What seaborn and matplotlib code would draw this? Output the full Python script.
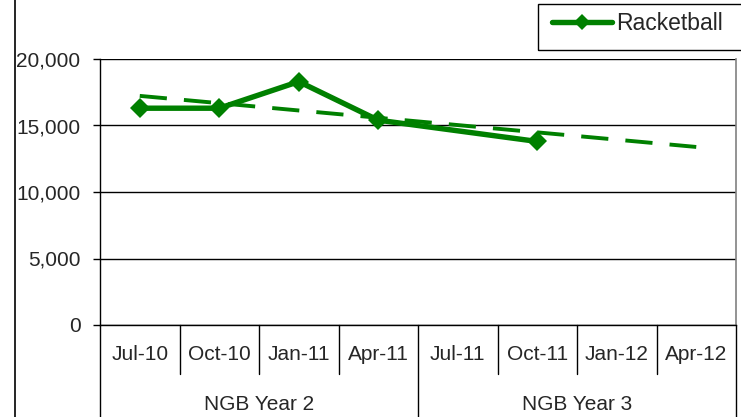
import numpy as np
import pandas as pd
import matplotlib
matplotlib.use("Agg")
import matplotlib.pyplot as plt
import matplotlib.transforms as mtransforms
from matplotlib.lines import Line2D
from matplotlib.patches import Rectangle
import seaborn as sns

# ---- data ----
categories = ["Jul-10", "Oct-10", "Jan-11", "Apr-11", "Jul-11", "Oct-11", "Jan-12", "Apr-12"]
values = [16300, 16300, 18300, 15400, np.nan, 13800, np.nan, np.nan]
groups = ["NGB Year 2", "NGB Year 3"]
group_sizes = [4, 4]
series_name = "Racketball"
yticks = [0, 5000, 10000, 15000, 20000]

sns.set_theme(style="white")
plt.rcParams["font.family"] = ["Liberation Sans", "DejaVu Sans"]

GREEN = "#008000"
W, H = 741, 417
FS = 15

fig = plt.figure(figsize=(W / 100, H / 100), dpi=100)
ax = fig.add_axes([100 / W, 1 - 325 / H, 636 / W, 266 / H])

df = pd.DataFrame({"pos": np.arange(len(categories)), "val": values})
sns.lineplot(data=df, x="pos", y="val", ax=ax, color=GREEN, lw=3.9,
             marker="D", markersize=10, markeredgewidth=0, zorder=4)

# linear trend line (Excel-like), extended over all categories
valid = df.dropna()
coef = np.polyfit(valid["pos"] + 1, valid["val"], 1)
xs = df["pos"].to_numpy()
ax.plot(xs, np.polyval(coef, xs + 1), color=GREEN, lw=2.8,
        dashes=(7, 4.4), zorder=3)

ax.set_xlim(-0.5, len(categories) - 0.5)
ax.set_ylim(0, 20000)
ax.set_yticks(yticks)
ax.set_yticklabels([f"{v:,}" for v in yticks], fontsize=FS)
ax.yaxis.grid(True, color="black", lw=1)
ax.set_axisbelow(True)
ax.tick_params(axis="y", length=5, width=1, color="black", direction="out", pad=9, left=True)
ax.set_xticks(xs)
ax.set_xticklabels([])
ax.tick_params(axis="x", length=0)
ax.set_xlabel("")
ax.set_ylabel("")

for s in ["left", "bottom"]:
    ax.spines[s].set_color("black")
    ax.spines[s].set_linewidth(1)
ax.spines["top"].set_visible(False)
ax.spines["right"].set_color("#808080")
ax.spines["right"].set_linewidth(1.2)

# category labels, separators and group labels
trans = mtransforms.blended_transform_factory(ax.transData, fig.transFigure)
y_axis = 1 - 325 / H
y_short = 1 - 374 / H
for i, c in enumerate(categories):
    fig.text(i, 1 - 355 / H, c, transform=trans, fontsize=FS,
             ha="center", va="center")
boundaries = [0]
for g in group_sizes:
    boundaries.append(boundaries[-1] + g)
for i in range(len(categories) + 1):
    xb = i - 0.5
    y_end = 0 if i in boundaries else y_short
    fig.add_artist(Line2D([xb, xb], [y_axis, y_end], transform=trans,
                          color="black", lw=1))
for gi, g in enumerate(groups):
    center = (boundaries[gi] + boundaries[gi + 1]) / 2 - 0.5
    fig.text(center, 1 - 405 / H, g, transform=trans, fontsize=FS,
             ha="center", va="center")

# outer chart border (left)
fig.add_artist(Line2D([15 / W, 15 / W], [0, 1], transform=fig.transFigure,
                      color="black", lw=1.2))

# legend (frame drawn as a box that runs off the right edge)
fig.add_artist(Rectangle((538 / W, 1 - 50 / H), 215 / W, 46 / H,
                         transform=fig.transFigure, fill=False,
                         edgecolor="black", lw=1))
handle = Line2D([], [], color=GREEN, lw=3.9, marker="D", markersize=8,
                markeredgewidth=0)
leg = fig.legend([handle], [series_name], loc="center left",
                 bbox_to_anchor=(552 / W, 1 - 24 / H), fontsize=16.5,
                 frameon=False, handlelength=2.6, handletextpad=0.2,
                 borderpad=0, borderaxespad=0)

fig.savefig("out.png", dpi=100)
